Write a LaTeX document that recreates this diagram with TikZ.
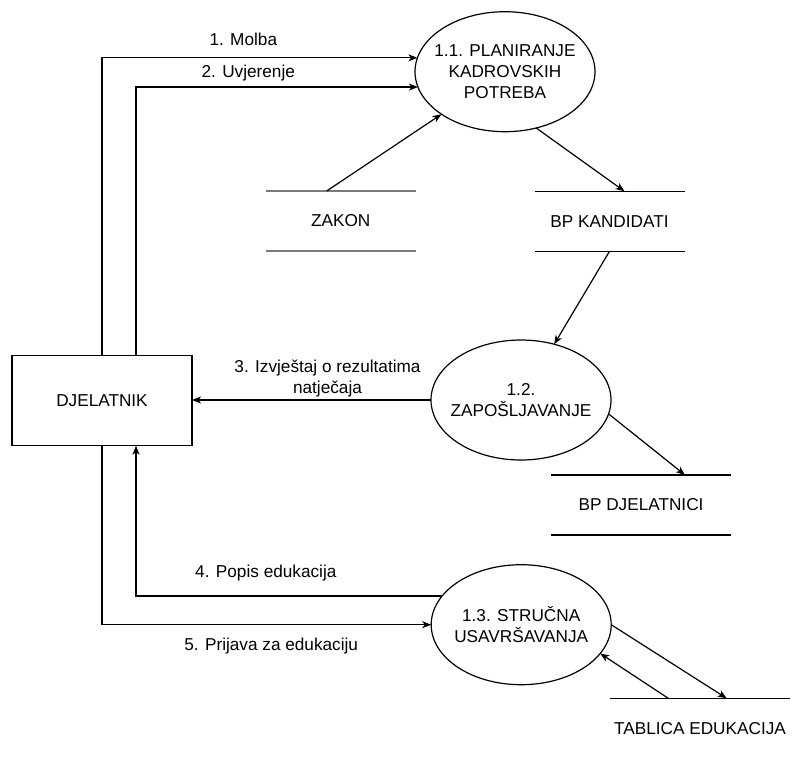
\documentclass[tikz,border=0pt]{standalone}
\usepackage{fontspec}
\setmainfont{Liberation Sans}
\usetikzlibrary{arrows.meta, shapes.geometric}
\definecolor{zakongrey}{RGB}{122,122,122}

\begin{document}
\begin{tikzpicture}[x=1pt, y=-1pt, line width=1.2pt, >={Stealth[length=9pt,width=7pt,inset=2.5pt]},
	every node/.style={font=\fontsize{17.2}{21}\selectfont},
	proc/.style={ellipse, draw, minimum width=180pt, minimum height=120pt, inner xsep=-30pt, inner ysep=0pt, outer sep=0pt, align=center},
	entity/.style={rectangle, draw, minimum width=180pt, minimum height=90pt, outer sep=0pt},
	store/.style={minimum width=150pt, minimum height=60pt, inner sep=0pt, outer sep=0pt},
	lbl/.style={align=center, inner sep=0pt}]

	\useasboundingbox (0,0) rectangle (792,756);

	% procesi
	\node[proc] (p11) at (505,71.7) {1.1. PLANIRANJE\\KADROVSKIH\\POTREBA};
	\node[proc] (p12) at (521,400) {1.2.\\ZAPOŠLJAVANJE};
	\node[proc] (p13) at (521.2,624.7) {1.3. STRUČNA\\USAVRŠAVANJA};

	% vanjski entitet
	\node[entity] (djel) at (102,400.7) {DJELATNIK};

	% spremista
	\node[store] (zakon) at (340.7,221) {ZAKON};
	\node[store] (bpk) at (609.5,221.3) {BP KANDIDATI};
	\node[store, minimum width=180pt] (bpd) at (641,505) {BP DJELATNICI};
	\node[store, minimum width=180pt] (tablica) at (700,728.3) {TABLICA EDUKACIJA};

	\draw[zakongrey, line width=1.8pt] (zakon.north west) -- (zakon.north east) (zakon.south west) -- (zakon.south east);
	\foreach \s in {bpk, bpd}
		\draw (\s.north west) -- (\s.north east) (\s.south west) -- (\s.south east);
	\draw (tablica.north west) -- (tablica.north east);

	% tokovi podataka
	\draw[->] (djel.north) |- (p11.171) node[pos=0.724, yshift=18.8pt] {1. Molba};
	\draw[->] ([xshift=34pt]djel.north) |- (p11.190) node[pos=0.699, yshift=14.2pt] {2. Uvjerenje};
	\draw[->] ([xshift=-14pt]zakon.north) -- (p11);
	\draw[->] (p11.-61) -- ([xshift=15pt]bpk.north);
	\draw[->] (bpk.south) -- (p12);
	\draw[->] (p12.west) -- (p12.west -| djel.east) node[lbl, pos=0.433, yshift=21pt] {3. Izvještaj o rezultatima\\natječaja};
	\draw[->] (p12.-9) -- ([xshift=44pt]bpd.north);
	\draw[->] (p13.160) -| ([xshift=34pt]djel.south) node[pos=0.288, yshift=22.5pt] {4. Popis edukacija};
	\draw[->] (djel.south) |- (p13.west) node[pos=0.757, yshift=-21.1pt] {5. Prijava za edukaciju};
	\draw[->] (p13.east) -- ([xshift=26.7pt]tablica.north);
	\draw[->] ([xshift=-31.7pt]tablica.north) -- (p13.-20);

\end{tikzpicture}
\end{document}
